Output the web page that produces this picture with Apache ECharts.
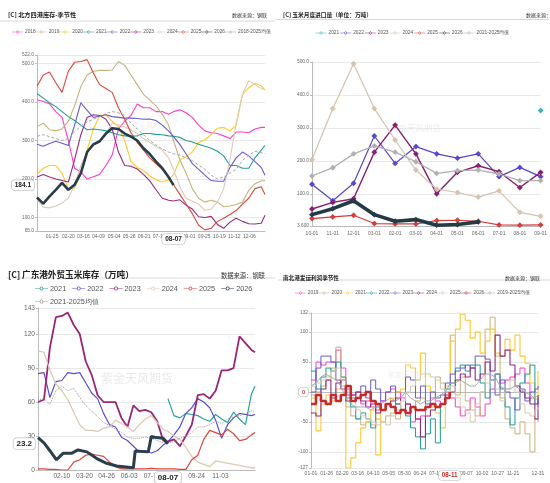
<!DOCTYPE html>
<html>
<head>
<meta charset="utf-8">
<script src="https://cdn.jsdelivr.net/npm/echarts@6/dist/echarts.min.js"></script>
<style>
  body { margin: 0; background: #fff; }
  .panel { position: absolute; }
  #c1 { left: 0; top: 0; width: 275px; height: 245px; }
  #c2 { left: 275px; top: 0; width: 275px; height: 245px; }
  #c3 { left: 0; top: 245px; width: 275px; height: 238px; }
  #c4 { left: 275px; top: 245px; width: 275px; height: 238px; }
</style>
</head>
<body>
<div id="c1" class="panel"></div>
<div id="c2" class="panel"></div>
<div id="c3" class="panel"></div>
<div id="c4" class="panel"></div>
<script>
// ---------- 共用 ----------
const numFont = "'Liberation Sans Narrow','Liberation Sans',Arial,sans-serif";
const cnFont = "'Noto Sans CJK SC',sans-serif";

// 采样日（一年中的第几天，从0开始）
const sampleIdx = [0, 10, 20, 30, 40, 50, 60, 70, 80, 90, 100, 110, 120, 130, 140, 150, 160, 170, 180, 190, 200, 210, 218,
  228, 238, 248, 258, 268, 278, 288, 298, 308, 318, 328, 338, 348, 358, 364];

// ---------- 图1 北方四港库存 ----------
const labels1 = ['01-25', '02-20', '03-16', '04-09', '05-04', '05-28', '06-21', '07-15', '08-07', '09-01', '09-25', '10-19', '11-12', '12-06'];
const port2018 = [405, 402, 395, 375, 360, 300, 228, 218, 200, 206, 212, 235, 262, 330, 350, 365, 395, 385, 385, 375, 375, 368, 375, 380, 372, 360, 340, 325, 320, 318, 312, 305, 322, 322, 320, 330, 334, 334];
const port2019 = [336, 345, 328, 325, 330, 350, 390, 440, 470, 480, 482, 482, 483, 505, 495, 470, 445, 420, 405, 390, 368, 340, 300, 250, 215, 175, 150, 140, 145, 140, 128, 130, 134, 140, 170, 188, 195, 196];
const port2020 = [212, 228, 235, 235, 215, 175, 177, 212, 275, 330, 365, 367, 350, 336, 300, 245, 230, 222, 208, 198, 192, 198, 212, 250, 258, 270, 295, 302, 315, 332, 334, 325, 340, 420, 437, 448, 442, 431];
const port2021 = [422, 410, 398, 388, 375, 362, 352, 340, 328, 330, 328, 325, 320, 315, 312, 311, 312, 318, 318, 316, 315, 312, 311, 308, 300, 296, 290, 285, 280, 272, 260, 235, 235, 228, 228, 255, 275, 287];
const port2022 = [290, 285, 292, 298, 293, 287, 340, 398, 378, 360, 363, 367, 362, 360, 358, 358, 357, 355, 356, 352, 340, 325, 310, 290, 265, 240, 225, 210, 196, 194, 194, 230, 255, 270, 260, 245, 230, 210];
const port2023 = [205, 212, 205, 200, 196, 192, 250, 315, 360, 367, 365, 355, 330, 270, 235, 233, 226, 212, 195, 172, 150, 145, 143, 146, 132, 122, 102, 100, 103, 82, 72, 88, 98, 90, 84, 83, 85, 106];
const port2024 = [147, 127, 125, 130, 138, 150, 185, 235, 270, 288, 295, 318, 345, 340, 335, 328, 318, 305, 295, 285, 275, 255, 225, 180, 150, 142, 135, 118, 122, 140, 175, 250, 345, 420, 455, 445, 435, 432];
const port2025 = [441, 470, 478, 450, 425, 480, 503, 505, 510, 475, 445, 435, 425, 385, 355, 320, 295, 275, 255, 240, 225, 205, 185, 160, 135, 110, 80, 68, 72, 90, 98, 108, 118, 135, 150, 175, 180, 160];
const port2026 = [152, 136, 155, 172, 190, 172, 185, 215, 270, 290, 298, 318, 332, 330, 318, 310, 300, 280, 265, 245, 228, 205, 184.1,
  null, null, null, null, null, null, null, null, null, null, null, null, null, null, null];
const portAvg = [311, 315, 310, 305, 300, 305, 322, 338, 348, 355, 362, 370, 375, 372, 365, 345, 330, 315, 300, 288, 278, 270, 266, 262, 255, 248, 236, 225, 210, 200, 205, 215, 225, 248, 262, 272, 268, 266];
const pointer1 = { date: '08-07', value: 184.1 };

// ---------- 图2 玉米月度进口量 ----------
const importMonths = ['10-01', '11-01', '12-01', '01-01', '02-01', '03-01', '04-01', '05-01', '06-01', '07-01', '08-01', '09-01'];
const imp2021 = [null, null, null, null, null, null, null, null, null, null, null, 353];
const imp2022 = [130, 80, 133, 276, 193, 244, 222, 209, 222, 153, 181, 153];
const imp2023 = [55, 75, 86, 227, 309, 222, 101, 166, 186, 168, 120, 166];
const imp2024 = [205, 359, 495, 359, 264, 173, 115, 105, 91, 110, 45, 33];
const imp2025 = [26, 31, 36, 11, 10, 10, 20, 21, 18, 7, 6, 7];
const imp2026 = [38, 56, 80, 38, 18, 23, 6, 8, 16, null, null, null];
const impAvg = [155, 180, 222, 246, 227, 198, 163, 171, 173, 161, 141, 141];

// ---------- 图3 广东港外贸玉米库存 ----------
const labels3 = ['02-10', '03-20', '04-26', '06-03', '07-11', '09-24', '11-03'];
const gd2021 = [null, null, null, null, null, null, null, null, null, null, null, null, null, null, null, null, null, null, null, null, null, null,
  63, 48, 46, 50, 49, 48, 45, 43, 49, 45, 42, 51, 45, 40, 67, 74];
const gd2022 = [85, 86, 64, 78, 79, 86, 85, 86, 77, 68, 63, 50, 40, 38, 29, 26, 21, 16, 17, 15, 17, 22, 25, 31, 38, 50, 55, 63, 60, 55, 44, 28, 40, 46, 50, 49, 48, 49];
const gd2023 = [60, 62, 108, 135, 136, 139, 128, 120, 96, 84, 66, 60, 60, 60, 46, 38, 57, 52, 53, 51, 43, 26, 25, 27, 21, 30, 40, 66, 67, 63, 70, 88, 88, 90, 118, 112, 106, 104];
const gd2024 = [105, 104, 88, 76, 70, 62, 51, 40, 35, 35, 34, 37, 38, 44, 41, 38, 34, 40, 45, 48, 42, 36, 34, 30, 27, 20, 12, 7, 5, 3, 8, 7, 6, 5, 4, 3, 2, 2];
const gd2025 = [1, 1, 0.5, 0.5, 0, 0, 7, 9, 13, 14, 13, 12, 7, 3, 1, 1, 1, 1, 1, 1.5, 1, 1, 1, 1, 0.5, 0.5, 9, 13, 27, 35, 33, 31, 36, 32, 26, 27, 31, 33];
const gdAvg = [62, 63, 58, 70, 74, 70, 72, 64, 57, 52, 47, 42, 39, 36, 33, 29, 28, 28, 29, 28, 26, 24, 24, 25, 28, 30, 33, 38, 38, 40, 43, 41, 45, 47, 48, 50, 52, 52];
const gd2026Idx = [0, 10, 20, 31, 42, 56, 67, 82, 98, 115, 132, 160, 163, 185, 190, 199, 210, 218];
const gd2026 = [28.6, 24, 17, 9, 14.7, 14.7, 17.7, 16, 10.3, 5.9, 3.5, 2, 16.8, 16, 29.5, 28.6, 28, 23.2];
const pointer3 = { date: '08-07', value: 23.2 };

// ---------- 图4 南北港发运利润 ----------
const labels4 = ['01-01', '01-26', '02-20', '03-16', '04-10', '05-05', '05-30', '06-24', '07-19', '08-13', '09-07', '10-02', '10-27', '11-21', '12-31'];
const profitIdx = [0, 8, 16, 24, 32, 40, 48, 56, 64, 72, 80, 88, 96, 104, 112, 120, 128, 136, 144, 152, 160, 168, 176, 184, 192, 200,
  208, 216, 224, 232, 240, 248, 256, 264, 272, 280, 288, 296, 304, 312, 320, 328, 336, 344, 352, 360, 365];
const pf2019 = [20, 50, 45, 50, 50, 70, 40, 5, -5, -10, -20, -15, -25, -30, -15, 0, 5, 0, -10, -20, -50, -45, -40, -25, -10, -15, -20, 0, -10, -25, -40, -30, -10, -25, -40, -20, 5, 30, 15, 20, 25, 30, 40, 15, -10, -20, -15];
const pf2020 = [-5, 0, 10, 20, 40, 75, 10, -25, -40, -45, -55, -50, -55, -45, -50, -40, -35, -45, -30, -20, -25, -15, -10, -25, -20, 25, 15, -10, 95, -5, 25, -15, -30, -40, 0, 105, 125, 60, -10, -45, -60, -70, -50, -70, -100, -45, -50];
const pf2021 = [-10, -65, -20, -5, -15, 5, 25, -127, -110, -85, -60, -50, -30, -105, -30, -20, -10, 0, 5, 45, 40, 20, 65, 10, -25, -35, -60, 10, 85, 105, 130, 120, 90, 100, 65, 85, 105, 65, 60, 88, 70, 95, 60, 48, 15, -12, 35];
const pf2022 = [35, 5, 25, 40, 35, 50, 25, -10, -25, -45, -35, -45, -60, -25, -30, -20, -25, -20, -30, -40, -60, -75, -95, -70, -45, -85, -20, 5, 15, 40, 45, 35, 45, 45, 15, -10, 20, 30, 5, -25, -55, -10, 15, 30, 45, -20, -10];
const pf2023 = [0, 40, 60, 60, 50, 20, 5, -5, -10, 0, 10, -10, 20, 5, -15, 0, 10, -20, -30, 25, 20, -10, 10, -20, 0, -10, -5, 15, 30, 35, 40, 45, 40, 60, 60, 55, 20, -5, 20, 0, -10, -30, 5, -15, 0, 5, 10];
const pf2024 = [-35, -40, 5, 20, -10, 15, 20, -15, -5, 0, -15, -25, -20, -35, -30, -20, -15, -10, -30, -20, -25, -45, -75, -40, -30, -25, -20, -5, 0, 20, 30, 25, 40, 20, 30, 50, 35, 95, 60, 70, 45, 10, 0, -10, -20, -45, -5];
const pf2025 = [10, 15, 20, 25, 35, 40, 20, 0, -10, -30, -40, -45, -50, -55, -50, -55, -40, -30, -15, 0, 10, 20, 30, 30, 25, 20, 5, 0, 10, -10, -25, -35, -50, -20, 0, 15, 20, 5, -15, 5, 20, 0, -20, -35, -40, -30, -25];
const pfAvg = [10, 15, 25, 30, 25, 20, 10, -10, -20, -25, -25, -25, -30, -25, -20, -15, -10, -15, -10, 0, -10, -15, -20, -15, -15, -10, -5, 0, 15, 15, 20, 15, 10, 10, 20, 30, 30, 25, 10, 5, 5, 10, 5, 0, -5, -10, -5];
const pf2026Idx = [0, 8, 16, 24, 32, 40, 48, 56, 64, 72, 80, 88, 96, 104, 112, 120, 128, 136, 144, 152, 160, 168, 176, 184, 192, 200, 208, 216, 223];
const pf2026 = [-20, -5, -15, -20, -5, -15, -5, 10, -15, -10, -5, 0, -15, -20, -30, -20, -25, -35, -30, -35, -25, -30, -30, -25, -20, -25, -20, -10, 0];
const pointer4 = { date: '08-11', value: 0 };

// 图例图标：两段短线 + 空心菱形 / 空心圆
const iconDiamond = 'path://M0,4.4H10.5V5.6H0Z M19.5,4.4H30V5.6H19.5Z M15,0L20,5L15,10L10,5Z M15,2.2L12.2,5L15,7.8L17.8,5Z';
const iconCircle = 'path://M0,4.4H10.5V5.6H0Z M19.5,4.4H30V5.6H19.5Z M10.5,5A4.5,4.5 0 1,1 19.5,5A4.5,4.5 0 1,1 10.5,5Z M12.3,5A2.7,2.7 0 1,0 17.7,5A2.7,2.7 0 1,0 12.3,5Z';

/**
 * 生成一年的日期（MM-DD）
 */
function buildDays(leap) {
  const mdays = [31, leap ? 29 : 28, 31, 30, 31, 30, 31, 31, 30, 31, 30, 31];
  const pad = n => (n < 10 ? '0' : '') + n;
  const out = [];
  mdays.forEach((n, m) => {
    for (let d = 1; d <= n; d++) out.push(pad(m + 1) + '-' + pad(d));
  });
  return out;
}

// 把采样日和数值拼成 [日期, 值]
function pairs(days, idx, vals) {
  const out = [];
  idx.forEach((d, i) => {
    if (vals[i] != null) out.push([days[d], vals[i]]);
  });
  return out;
}

function line(name, color, data, width, extra) {
  return Object.assign({
    name: name,
    type: 'line',
    data: data,
    showSymbol: false,
    symbol: 'emptyDiamond',
    symbolSize: 4,
    color: color,
    lineStyle: { width: width || 1, color: color },
    itemStyle: { color: color },
    emphasis: { disabled: true },
    animation: false
  }, extra || {});
}

function header(title, titleSize, titleTop, src, srcSize, srcPos) {
  return [
    { text: title, left: 3, top: titleTop, textStyle: { fontSize: titleSize, fontWeight: 'bold', color: '#222', fontFamily: cnFont } },
    Object.assign({ text: src, textStyle: { fontSize: srcSize, fontWeight: 'normal', color: '#333', fontFamily: cnFont } }, srcPos)
  ];
}

// 分隔线 + 水印
function decor(sepY, sepX, mark) {
  return [
    { type: 'line', shape: { x1: sepX, y1: sepY, x2: 275, y2: sepY }, style: { stroke: '#cfcfcf', lineWidth: 0.8 }, silent: true },
    { type: 'text', left: mark.left, top: mark.top, z: -1, silent: true,
      style: { text: '紫金天风期货', fontSize: mark.size, fill: 'rgba(120,120,120,' + mark.alpha + ')', fontFamily: cnFont } }
  ];
}

function pointerLabel(size, color, text) {
  return {
    show: true,
    formatter: () => text,
    backgroundColor: '#fff',
    borderColor: '#b5b5b5',
    borderWidth: 0.6,
    color: color,
    fontWeight: 'bold',
    fontSize: size,
    fontFamily: numFont,
    padding: [1.5, 3],
    shadowBlur: 0
  };
}

function catAxis(days, shown, size, ptr, ptrSize, ptrColor) {
  return {
    type: 'category',
    data: days,
    boundaryGap: false,
    axisLine: { lineStyle: { color: '#bbb' } },
    axisTick: { show: false },
    axisLabel: {
      interval: (i, v) => shown.indexOf(v) >= 0,
      fontSize: size, color: '#666', margin: 3, fontFamily: numFont
    },
    splitLine: { show: false },
    axisPointer: {
      show: true, status: 'show', value: days.indexOf(ptr), snap: false, triggerTooltip: false,
      lineStyle: { opacity: 0 }, label: pointerLabel(ptrSize, ptrColor, ptr), handle: { show: false }
    }
  };
}

function valAxis(min, max, fmt, size, ptrVal, ptrText, ptrSize, ptrColor) {
  return {
    type: 'value',
    min: min,
    max: max,
    axisLine: { show: true, lineStyle: { color: '#bbb' } },
    axisTick: { show: true, length: 2, lineStyle: { color: '#bbb' } },
    axisLabel: { formatter: fmt, fontSize: size, color: '#666', margin: 3, fontFamily: numFont },
    splitLine: { lineStyle: { color: '#e3e3e3', width: 0.8 } },
    axisPointer: ptrText != null ? {
      show: true, status: 'show', value: ptrVal, snap: false, triggerTooltip: false,
      lineStyle: { opacity: 0 }, label: pointerLabel(ptrSize, ptrColor, ptrText), handle: { show: false }
    } : undefined
  };
}

function legendCfg(icon, top, left, size, iw, ih, gap, width) {
  return {
    top: top, left: left, width: width,
    icon: icon,
    itemWidth: iw, itemHeight: ih, itemGap: gap,
    textStyle: { fontSize: size, color: '#555', fontFamily: numFont, padding: [0, 0, 0, -3] },
    selectedMode: false
  };
}

// ---------- 图1 ----------
function initChart1() {
  const days = buildDays(false);
  const chart = echarts.init(document.getElementById('c1'));
  chart.setOption({
    backgroundColor: '#fff',
    animation: false,
    title: header('[C] 北方四港库存-季节性', 6.2, 7, '数据来源：钢联', 5, { right: 3, top: 8 }),
    graphic: decor(21, 0, { left: 125, top: 122, size: 7, alpha: 0.13 }),
    legend: legendCfg(iconDiamond, 24.5, 7, 4.8, 11, 4, 0, 300),
    grid: { left: 37, right: 10, top: 55, bottom: 14 },
    xAxis: catAxis(days, labels1, 5, pointer1.date, 6.5, '#222'),
    yAxis: valAxis(65, 522, v => v.toFixed(1), 4.8, pointer1.value, '184.1', 6.5, '#222'),
    series: [
      line('2018', '#ff3fc9', pairs(days, sampleIdx, port2018), 1.1),
      line('2019', '#c5b37e', pairs(days, sampleIdx, port2019), 1.1),
      line('2020', '#ffc926', pairs(days, sampleIdx, port2020), 1.1),
      line('2021', '#239d9b', pairs(days, sampleIdx, port2021), 1.1),
      line('2022', '#6b5acd', pairs(days, sampleIdx, port2022), 1.1),
      line('2023', '#9a2b7d', pairs(days, sampleIdx, port2023), 1.1),
      line('2024', '#dccbb8', pairs(days, sampleIdx, port2024), 1.1),
      line('2025', '#d9483b', pairs(days, sampleIdx, port2025), 1.1),
      line('2026', '#293c49', pairs(days, sampleIdx, port2026), 2.6, { z: 5 }),
      line('2018-2025均值', '#a8a8a8', pairs(days, sampleIdx, portAvg), 1, { lineStyle: { width: 1, color: '#a8a8a8', type: [3, 2] } })
    ]
  });
}

// ---------- 图2 ----------
function initChart2() {
  const chart = echarts.init(document.getElementById('c2'));
  const sym = { showSymbol: true, symbol: 'emptyDiamond', symbolSize: 3 };
  chart.setOption({
    backgroundColor: '#fff',
    animation: false,
    title: header('[C] 玉米月度进口量（单位：万吨）', 5.7, 7, '数据来源：钢联', 5, { left: 246, top: 8 }),
    graphic: decor(19.5, 0, { left: 115, top: 124, size: 8.5, alpha: 0.14 }),
    legend: legendCfg(iconDiamond, 25.5, 'center', 4.8, 11, 4, 1),
    grid: { left: 37, right: 5, top: 62, bottom: 19 },
    xAxis: {
      type: 'category', data: importMonths, boundaryGap: false,
      axisLine: { lineStyle: { color: '#bbb' } },
      axisTick: { show: false },
      axisLabel: { interval: 0, fontSize: 5, color: '#666', margin: 5, fontFamily: numFont }
    },
    yAxis: valAxis(3.6, 500, v => (v < 10 ? v.toFixed(3) : v.toFixed(1)), 4.8),
    series: [
      line('2021', '#3fb3b3', imp2021, 1.2, sym),
      line('2022', '#5a47c8', imp2022, 1.2, sym),
      line('2023', '#8b1c6e', imp2023, 1.4, sym),
      line('2024', '#d5c3ad', imp2024, 1.2, sym),
      line('2025', '#d43c3c', imp2025, 1.2, sym),
      line('2026', '#243a45', imp2026, 3.6, Object.assign({ z: 5 }, sym)),
      line('2021-2025均值', '#b0b0b0', impAvg, 1.3, sym)
    ]
  });
}

// ---------- 图3 ----------
function initChart3() {
  const days = buildDays(false);
  const chart = echarts.init(document.getElementById('c3'));
  const circ = { symbol: 'emptyCircle', symbolSize: 5 };
  chart.setOption({
    backgroundColor: '#fff',
    animation: false,
    title: header('[C] 广东港外贸玉米库存（万吨）', 8.6, 20, '数据来源：钢联', 6.3, { right: 5, top: 22 }),
    graphic: decor(33, 6, { left: 101, top: 127, size: 12, alpha: 0.16 }),
    legend: legendCfg(iconCircle, 35, 30, 7.3, 13, 5, 6, 242),
    grid: { left: 38, right: 20, top: 63, bottom: 13 },
    xAxis: catAxis(days, labels3, 6.6, pointer3.date, 8, '#222'),
    yAxis: valAxis(0, 143, v => String(v), 6.6, pointer3.value, '23.2', 8, '#222'),
    series: [
      line('2021', '#2aa2a2', pairs(days, sampleIdx, gd2021), 1.2, circ),
      line('2022', '#5b4fd0', pairs(days, sampleIdx, gd2022), 1.2, circ),
      line('2023', '#9a2579', pairs(days, sampleIdx, gd2023), 1.8, circ),
      line('2024', '#dccab4', pairs(days, sampleIdx, gd2024), 1.3, circ),
      line('2025', '#e0453a', pairs(days, sampleIdx, gd2025), 1.2, circ),
      line('2026', '#293f4d', pairs(days, gd2026Idx, gd2026), 3, Object.assign({ z: 5 }, circ)),
      line('2021-2025均值', '#9a9a9a', pairs(days, sampleIdx, gdAvg), 1, Object.assign({ lineStyle: { width: 1, color: '#9a9a9a', type: 'dotted' } }, circ))
    ]
  });
}

// ---------- 图4 ----------
function initChart4() {
  const days = buildDays(true);
  const chart = echarts.init(document.getElementById('c4'));
  const st = { step: 'end' };
  chart.setOption({
    backgroundColor: '#fff',
    animation: false,
    title: header('南北港发运利润季节性', 5.6, 25, '数据来源：钢联', 5, { right: 5, top: 26 }),
    graphic: decor(35, 3, { left: 113, top: 126, size: 7, alpha: 0.12 }),
    legend: legendCfg(iconDiamond, 40.5, 'center', 4.8, 11, 4, 0),
    grid: { left: 36, right: 12, top: 68, bottom: 15 },
    xAxis: catAxis(days, labels4, 5, pointer4.date, 6.3, '#c62a2a'),
    yAxis: valAxis(-127, 132, v => String(v), 4.8, pointer4.value, '0', 5.5, '#c62a2a'),
    series: [
      line('2019', '#ff3fc9', pairs(days, profitIdx, pf2019), 1, st),
      line('2020', '#c8b27a', pairs(days, profitIdx, pf2020), 1, st),
      line('2021', '#ffc933', pairs(days, profitIdx, pf2021), 1.1, st),
      line('2022', '#1e9c9c', pairs(days, profitIdx, pf2022), 1, st),
      line('2023', '#6a5acd', pairs(days, profitIdx, pf2023), 1, st),
      line('2024', '#8f2b80', pairs(days, profitIdx, pf2024), 1.1, st),
      line('2025', '#d6cab4', pairs(days, profitIdx, pf2025), 1, st),
      line('2026', '#c62a2a', pairs(days, pf2026Idx, pf2026), 2.6, Object.assign({ z: 5 }, st)),
      line('2019-2025均值', '#aaaaaa', pairs(days, profitIdx, pfAvg), 1)
    ]
  });
}

initChart1();
initChart2();
initChart3();
initChart4();
</script>
</body>
</html>
